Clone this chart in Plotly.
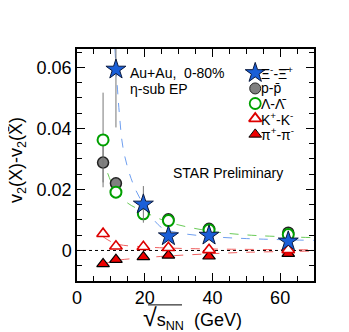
import plotly.graph_objects as go

energy = [7.7, 11.5, 19.6, 27, 39, 62.4]

xi_y = [None, 0.0593, 0.0151, 0.0047, 0.0049, 0.0030]
xi_err = [0, 0.019, 0.006, 0.001, 0.001, 0.001]
p_y = [0.0288, 0.0220, 0.0125, 0.0102, 0.0071, 0.0058]
p_err = [0.0065, 0.001, 0.001, 0.0005, 0.0005, 0.0005]
lam_y = [0.0362, 0.0191, 0.0120, 0.0098, 0.0067, 0.0052]
lam_err = [0.0155, 0.002, 0.002, 0.001, 0.001, 0.001]
k_y = [0.0055, 0.0014, 0.0012, 0.0009, 0.0002, 0.0002]
pi_y = [-0.0044, -0.0030, -0.0021, -0.0016, -0.0019, -0.0010]

# fit curves
xi_fit_x = [11.2, 12.5, 13.7, 16.4, 19.6, 25, 30, 39, 50, 70]
xi_fit_y = [0.066, 0.045, 0.033, 0.0223, 0.0152, 0.0075, 0.0058, 0.0046, 0.0039, 0.0033]
lam_fit_x = [7.7, 9, 11.5, 15, 19.6, 27, 39, 50, 70]
lam_fit_y = [0.031, 0.0255, 0.0195, 0.0155, 0.0128, 0.0093, 0.0064, 0.0051, 0.0042]
k_fit_x = [7.7, 11.5, 19.6, 27, 39, 70]
k_fit_y = [0.0045, 0.0022, 0.0012, 0.0008, 0.0005, 0.0002]
pi_fit_x = [7.7, 11.5, 19.6, 27, 39, 50, 70]
pi_fit_y = [-0.0045, -0.0033, -0.0024, -0.0018, -0.0011, -0.0006, -0.0002]

FONT = "Liberation Sans, Arial"

fig = go.Figure()

# zero line
fig.add_trace(go.Scatter(x=[0, 70], y=[0, 0], mode="lines",
                         line=dict(color="black", width=1, dash="dot")))

# fits
for fx, fy, col in [(xi_fit_x, xi_fit_y, "#6f9ff0"), (lam_fit_x, lam_fit_y, "#6acb58"),
                    (k_fit_x, k_fit_y, "#f06060"), (pi_fit_x, pi_fit_y, "#f06060")]:
    fig.add_trace(go.Scatter(x=fx, y=fy, mode="lines", line_shape="spline",
                             line=dict(color=col, width=1, dash="dash")))

err_style = dict(type="data", color="#777777", thickness=1, width=0)

fig.add_trace(go.Scatter(x=energy, y=pi_y, mode="markers",
                         marker=dict(symbol="triangle-up", size=11, color="#ee0000",
                                     line=dict(color="black", width=1.2))))
fig.add_trace(go.Scatter(x=energy, y=k_y, mode="markers",
                         marker=dict(symbol="triangle-up", size=11, color="white",
                                     line=dict(color="#dd0000", width=1.6))))
fig.add_trace(go.Scatter(x=energy, y=p_y, mode="markers",
                         error_y=dict(array=p_err, **err_style),
                         marker=dict(symbol="circle", size=11, color="#808080",
                                     line=dict(color="#222222", width=1.5))))
fig.add_trace(go.Scatter(x=energy, y=lam_y, mode="markers",
                         error_y=dict(array=lam_err, **err_style),
                         marker=dict(symbol="circle", size=11, color="white",
                                     line=dict(color="#00a000", width=2))))
fig.add_trace(go.Scatter(x=energy, y=xi_y, mode="markers",
                         error_y=dict(array=xi_err, **err_style),
                         marker=dict(symbol="star", size=15, color="#1a5fd8",
                                     line=dict(color="#0a1a40", width=1))))

# legend built by hand (markers on a paper-like overlay axis + text)
leg = [("Ξ<sup>-</sup>-Ξ̄<sup>+</sup>", "star", "#1a5fd8", "#0a1a40", 15),
       ("p-p̄", "circle", "#808080", "#222222", 11),
       ("Λ-Λ̄", "circle", "white", "#00a000", 11),
       ("K<sup>+</sup>-K<sup>-</sup>", "triangle-up", "white", "#dd0000", 11),
       ("π<sup>+</sup>-π<sup>-</sup>", "triangle-up", "#ee0000", "black", 11)]
leg_y = [0.897, 0.830, 0.765, 0.700, 0.632]
for (lab, sym, fc, lc, sz), yy in zip(leg, leg_y):
    fig.add_trace(go.Scatter(x=[0.752], y=[yy], xaxis="x2", yaxis="y2", mode="markers",
                             marker=dict(symbol=sym, size=sz, color=fc,
                                         line=dict(color=lc, width=1.8 if fc == "white" else 1)),
                             hoverinfo="skip"))
    fig.add_annotation(xref="paper", yref="paper", x=0.768, y=yy, text=lab, showarrow=False,
                       xanchor="left", yanchor="middle",
                       font=dict(family=FONT, size=14, color="black"))

fig.add_annotation(xref="paper", yref="paper", x=0.215, y=0.897, xanchor="left", yanchor="middle",
                   text="Au+Au,  0-80%", showarrow=False,
                   font=dict(family=FONT, size=14, color="black"))
fig.add_annotation(xref="paper", yref="paper", x=0.215, y=0.828, xanchor="left", yanchor="middle",
                   text="η-sub EP", showarrow=False,
                   font=dict(family=FONT, size=14, color="black"))
fig.add_annotation(xref="paper", yref="paper", x=0.395, y=0.466, xanchor="left", yanchor="middle",
                   text="STAR Preliminary", showarrow=False,
                   font=dict(family=FONT, size=14, color="black"))

# axis titles
fig.add_annotation(xref="paper", yref="paper", x=0.488, y=-0.16, xanchor="center", yanchor="middle",
                   text="<span style='font-size:25px'>√</span>s<sub>NN</sub>  (GeV)", showarrow=False,
                   font=dict(family=FONT, size=18, color="black"))
fig.add_shape(type="line", xref="paper", yref="paper", x0=0.30, x1=0.443, y0=-0.103, y1=-0.103,
              line=dict(color="black", width=1))
fig.add_annotation(xref="paper", yref="paper", x=-0.25, y=0.52, xanchor="center", yanchor="middle",
                   textangle=-90, text="v<sub>2</sub>(X)-v<sub>2</sub>(X̄)", showarrow=False,
                   font=dict(family=FONT, size=18, color="black"))

axis_common = dict(showline=True, linecolor="black", linewidth=1.5, mirror="ticks",
                   ticks="inside", tickcolor="black", ticklen=8, tickwidth=1,
                   showgrid=False, zeroline=False, automargin=False,
                   tickfont=dict(family=FONT, size=18, color="black"))

# page body adds an 8px offset, so the figure is shrunk by that amount
fig.update_layout(
    width=341, height=324,
    margin=dict(l=69, r=35, t=41, b=51),
    plot_bgcolor="white", paper_bgcolor="white",
    showlegend=False,
    xaxis=dict(range=[0, 70], tickvals=[0, 20, 40, 60],
               minor=dict(dtick=5, ticks="inside", ticklen=5, tickcolor="black"),
               **axis_common),
    yaxis=dict(range=[-0.01, 0.066], tickvals=[0, 0.02, 0.04, 0.06],
               ticktext=["0", "0.02", "0.04", "0.06"],
               minor=dict(dtick=0.005, ticks="inside", ticklen=5, tickcolor="black"),
               **axis_common),
    xaxis2=dict(range=[0, 1], overlaying="x", visible=False),
    yaxis2=dict(range=[0, 1], overlaying="y", visible=False),
)

fig.write_html("out.html")
